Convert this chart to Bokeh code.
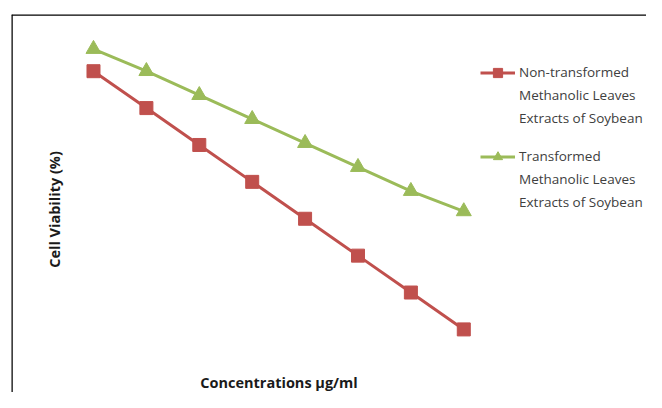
from bokeh.plotting import figure
from bokeh.models import Range1d, Span, Label, Legend, LegendItem
from bokeh.embed import file_html
from bokeh.resources import INLINE

# ---- data (no tick values shown on the chart) ----
concentrations = [1, 2, 3, 4, 5, 6, 7, 8]
non_transformed = [100, 90, 80, 70, 60, 50, 40, 30]
transformed = [106, 100, 93.5, 87, 80.5, 74, 67.5, 62]
legend_lines_1 = ["Non-transformed", "Methanolic Leaves", "Extracts of Soybean"]
legend_lines_2 = ["Transformed", "Methanolic Leaves", "Extracts of Soybean"]
x_title = "Concentrations µg/ml"
y_title = "Cell Viability (%)"

RED = "#C0504D"
GREEN = "#9BBB59"
FONT = "Open Sans"

W, H = 646, 392
p = figure(width=W, height=H, output_backend="svg", toolbar_location=None,
           x_range=Range1d(-0.55, 11.454), y_range=Range1d(12.90, 115.37),
           x_axis_location=None, y_axis_location=None,
           min_border_left=11, min_border_top=14, min_border_right=0, min_border_bottom=0)
p.grid.visible = False
p.outline_line_color = None
p.background_fill_color = "white"
p.border_fill_color = "white"

r1l = p.line(concentrations, non_transformed, line_color=RED, line_width=3)
r1m = p.scatter(concentrations, non_transformed, marker="square", size=13,
                fill_color=RED, line_color=RED)
r2l = p.line(concentrations, transformed, line_color=GREEN, line_width=3)
r2m = p.scatter(concentrations, transformed, marker="triangle", size=15,
                fill_color=GREEN, line_color=GREEN)

# chart border (top and left visible in the crop)
p.add_layout(Span(location=p.y_range.end, dimension="width", line_color="black", line_width=2.5))
p.add_layout(Span(location=p.x_range.start, dimension="height", line_color="black", line_width=2.5))

# label screen positions are relative to the plot frame (left edge at 11px)
p.add_layout(Label(x=43, y=H - 209, x_units="screen", y_units="screen", text=y_title,
                   angle=90, angle_units="deg", text_align="center", text_baseline="middle",
                   text_font=FONT, text_font_size="14.5px", text_font_style="bold",
                   text_color="#1a1a1a"))
p.add_layout(Label(x=267.5, y=10.5, x_units="screen", y_units="screen", text=x_title,
                   text_align="center", text_baseline="middle",
                   text_font=FONT, text_font_size="14.5px", text_font_style="bold",
                   text_color="#1a1a1a"))


def make_legend(lines, renderers, loc):
    items = [LegendItem(label=lines[0], renderers=renderers)]
    items += [LegendItem(label=t, renderers=[]) for t in lines[1:]]
    lg = Legend(items=items, location=loc, orientation="vertical")
    lg.label_text_font = FONT
    lg.label_text_font_size = "13.5px"
    lg.label_text_color = "#404040"
    lg.glyph_width = 35
    lg.glyph_height = 23
    lg.label_height = 23
    lg.label_standoff = 4
    lg.spacing = 0
    lg.padding = 0
    lg.margin = 0
    lg.border_line_color = None
    lg.background_fill_alpha = 0
    return lg


p.add_layout(make_legend(legend_lines_1, [r1l, r1m], (469, 262.5)))
p.add_layout(make_legend(legend_lines_2, [r2l, r2m], (469, 178.5)))

open("out.html", "w").write(file_html(p, INLINE))
